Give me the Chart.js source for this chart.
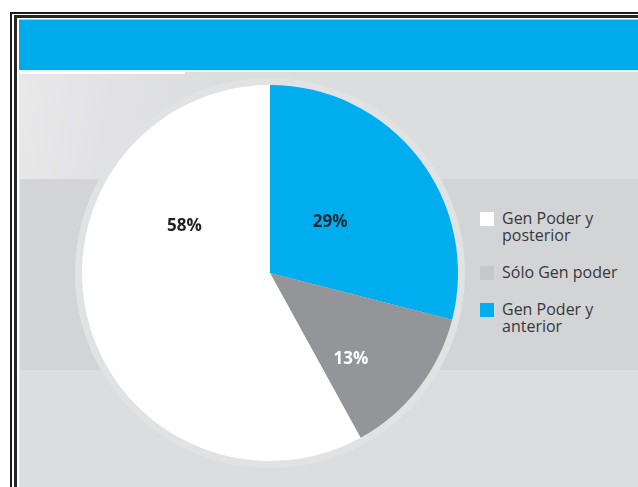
<!DOCTYPE html>
<html>
<head>
<meta charset="utf-8">
<script src="https://cdn.jsdelivr.net/npm/chart.js@4.4.1/dist/chart.umd.min.js"></script>
<style>
  html, body { margin: 0; padding: 0; }
  body { width: 638px; height: 487px; background: #fff; position: relative; overflow: hidden; font-family: 'Open Sans', sans-serif; }
  .abs { position: absolute; }
  #frameOuter { left: 10px; top: 12px; width: 700px; height: 600px; border-left: 2px solid #1c1c1c; border-top: 2px solid #1c1c1c; }
  #frameInner { left: 14px; top: 15px; width: 700px; height: 600px; border-left: 3px solid #272727; border-top: 3px solid #272727; }
  #header { left: 19px; top: 19px; right: 0; height: 50px; background: #00acec; border-top: 1px solid #8ad7f4; }
  #headerLine { left: 19px; top: 70px; right: 0; height: 2px; background: #e4f5fc; }
  #panel { left: 19px; top: 72px; right: 0; bottom: 0; background: #dcdddf; border-left: 1px solid #e8e8e9; }
  #whiteStripe { left: 20px; top: 72px; width: 165px; height: 2px; background: #fff; }
  #glow { left: 20px; top: 74px; width: 190px; height: 105px; background: linear-gradient(100deg, #e9e9ea 0%, #e2e2e4 45%, #dcdddf 100%); }
  #band { left: 20px; top: 179px; right: 0; height: 191px; background: #d3d4d6; }
  #chartBox { left: 60px; top: 63px; width: 420px; height: 420px; }
  #legend { left: 480px; top: 210px; width: 150px; }
  #legend ul { list-style: none; margin: 0; padding: 0; }
  #legend li { display: flex; align-items: flex-start; margin-bottom: 20px; }
  #legend .sw { width: 14px; height: 14px; margin-top: 2px; margin-right: 8px; flex: none; }
  #legend .tx { font-size: 16px; line-height: 17px; color: #38383a; max-width: 122px; }
</style>
</head>
<body>
<div id="frameOuter" class="abs"></div>
<div id="frameInner" class="abs"></div>
<div id="header" class="abs"></div>
<div id="headerLine" class="abs"></div>
<div id="panel" class="abs"></div>
<div id="whiteStripe" class="abs"></div>
<div id="glow" class="abs"></div>
<div id="band" class="abs"></div>
<div id="chartBox" class="abs"><canvas id="myChart"></canvas></div>
<div id="legend" class="abs"></div>

<script>
// slices, clockwise from 12 o'clock
const categories = ['Gen Poder y anterior', 'Sólo Gen poder', 'Gen Poder y posterior'];
const shares = [29, 13, 58];

// legend order (top to bottom)
const legendOrder = ['Gen Poder y posterior', 'Sólo Gen poder', 'Gen Poder y anterior'];

const sliceColors = ['#00adef', '#939598', '#ffffff'];
const swatchColors = { 'Gen Poder y anterior': '#00adef', 'Sólo Gen poder': '#c6c7c9', 'Gen Poder y posterior': '#ffffff' };
const labelColors = ['#1c2a38', '#ffffff', '#231f20'];
// label offsets from centre, in units of the radius
const labelSpots = [[0.32, -0.27], [0.43, 0.46], [-0.455, -0.25]];

// light ring behind the pie
const haloPlugin = {
  id: 'halo',
  beforeDatasetsDraw(chart) {
    const arc = chart.getDatasetMeta(0).data[0];
    if (!arc) return;
    const ctx = chart.ctx;
    ctx.save();
    ctx.beginPath();
    ctx.arc(arc.x, arc.y, arc.outerRadius + 7, 0, Math.PI * 2);
    ctx.fillStyle = '#e1e2e3';
    ctx.fill();
    ctx.restore();
  }
};

// percentage text inside slices
const pctLabels = {
  id: 'pctLabels',
  afterDatasetsDraw(chart) {
    const meta = chart.getDatasetMeta(0);
    const ctx = chart.ctx;
    ctx.save();
    ctx.font = 'bold 17px "Open Sans"';
    ctx.textAlign = 'center';
    ctx.textBaseline = 'middle';
    meta.data.forEach((arc, i) => {
      const r = arc.outerRadius;
      ctx.fillStyle = labelColors[i];
      ctx.fillText(chart.data.datasets[0].data[i] + '%', arc.x + labelSpots[i][0] * r, arc.y + labelSpots[i][1] * r);
    });
    ctx.restore();
  }
};

// html legend with wrapping text
const htmlLegend = {
  id: 'htmlLegend',
  afterUpdate(chart) {
    const box = document.getElementById('legend');
    const ul = document.createElement('ul');
    legendOrder.forEach(name => {
      const li = document.createElement('li');
      const sw = document.createElement('span');
      sw.className = 'sw';
      sw.style.background = swatchColors[name];
      const tx = document.createElement('span');
      tx.className = 'tx';
      tx.textContent = name;
      li.appendChild(sw);
      li.appendChild(tx);
      ul.appendChild(li);
    });
    box.innerHTML = '';
    box.appendChild(ul);
  }
};

const data = {
  labels: categories,
  datasets: [{
    data: shares,
    backgroundColor: sliceColors,
    borderWidth: 0,
    hoverOffset: 0,
    radius: 188
  }]
};

const config = {
  type: 'pie',
  data,
  options: {
    responsive: true,
    maintainAspectRatio: false,
    animation: false,
    layout: { padding: 0 },
    plugins: {
      legend: { display: false },
      tooltip: { enabled: false }
    }
  },
  plugins: [haloPlugin, pctLabels, htmlLegend]
};

const myChart = new Chart(document.getElementById('myChart'), config);
</script>
</body>
</html>
